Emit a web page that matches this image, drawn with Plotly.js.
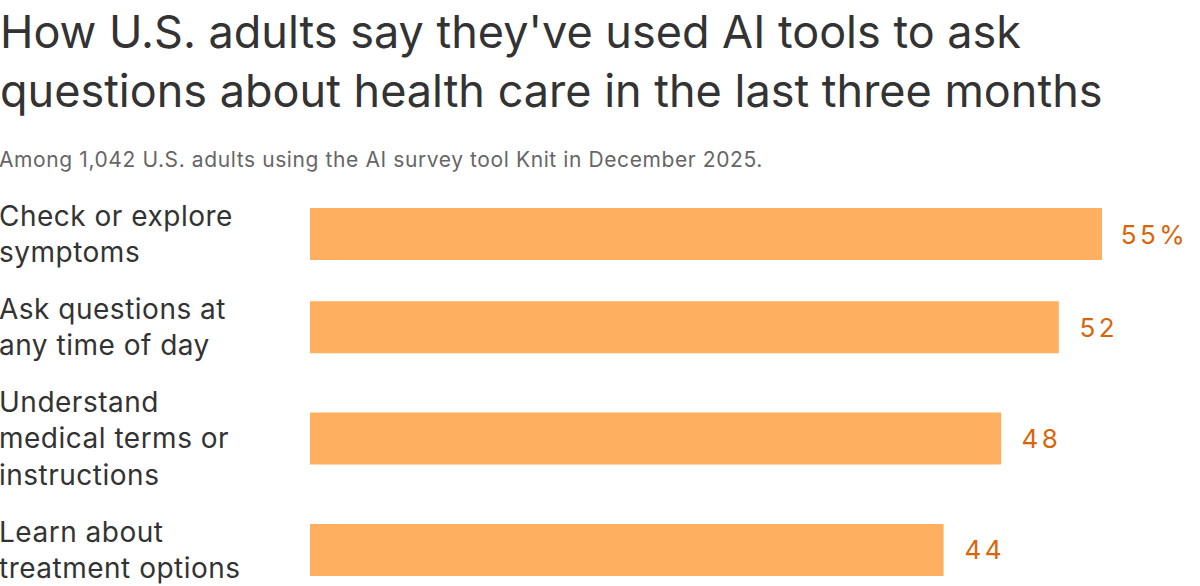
<!DOCTYPE html>
<html><head><meta charset="utf-8">
<script src="https://cdn.plot.ly/plotly-3.0.1.min.js"></script>
<style>
html,body{margin:0;padding:0;background:#fff}
#chart{width:1200px;height:586px}
g.annotation[data-index="0"] text, g.annotation[data-index="1"] text,
g.annotation[data-index="2"] text, g.annotation[data-index="3"] text{letter-spacing:3.5px}
g.annotation[data-index="4"] text, g.annotation[data-index="5"] text,
g.annotation[data-index="6"] text, g.annotation[data-index="7"] text{letter-spacing:0.5px}
g.annotation[data-index="8"] text{letter-spacing:0.6px}
</style>
</head><body><div id="chart"></div>
<script>
const titleText = "How U.S. adults say they've used AI tools to ask<br>questions about health care in the last three months";
const subtitleText = "Among 1,042 U.S. adults using the AI survey tool Knit in December 2025.";
const categories = ["Check or explore<br>symptoms", "Ask questions at<br>any time of day", "Understand<br>medical terms or<br>instructions", "Learn about<br>treatment options"];
const values = [55, 52, 48, 44];
const valueLabels = ["55%", "52", "48", "44"];

const FONT = "Inter, 'Noto Sans', sans-serif";
const GAP = 0.55;
const positions = [];
let acc = 0;
categories.forEach(c => { const n = c.split('<br>').length; positions.push(acc + n / 2); acc += n + GAP; });

const W = 1200, H = 586, L = 310, T = 190;
const plotH = H - T;
const pxPerUnit = 36.53;
const yTop = positions[0] - (234 - T) / pxPerUnit;
const yBottom = yTop + plotH / pxPerUnit;

const annotations = [];
values.forEach((v, i) => annotations.push({
  x: v, y: positions[i], xref: 'x', yref: 'y', text: valueLabels[i], showarrow: false,
  xanchor: 'left', yanchor: 'middle', xshift: 22,
  font: {family: FONT, size: 26, color: '#D9650A'}
}));
categories.forEach((c, i) => annotations.push({
  x: -L / (W - L), y: positions[i], xref: 'paper', yref: 'y', text: c, showarrow: false,
  xanchor: 'left', yanchor: 'middle', align: 'left', xshift: -3,
  font: {family: FONT, size: 28, color: '#333333'}
}));
annotations.push({
  x: -L / (W - L), y: (H - 174) / plotH, xref: 'paper', yref: 'paper', text: subtitleText, showarrow: false,
  xanchor: 'left', yanchor: 'bottom', align: 'left', xshift: -3,
  font: {family: FONT, size: 21, color: '#666666'}
});

const data = [{
  type: 'bar', orientation: 'h', x: values, y: positions,
  width: 52 / pxPerUnit,
  marker: {color: '#FFAF60'}, hoverinfo: 'none'
}];

const layout = {
  width: W, height: H,
  margin: {l: L, r: 0, t: T, b: 0},
  paper_bgcolor: '#fff', plot_bgcolor: '#fff',
  showlegend: false,
  title: {text: titleText, x: 0, xref: 'container', xanchor: 'left', y: 0.918, yref: 'container', yanchor: 'top',
    pad: {l: 0, t: 0}, font: {family: FONT, size: 45, color: '#333333'}},
  xaxis: {range: [0, (W - L) / (792 / 55)], visible: false, fixedrange: true},
  yaxis: {range: [yBottom, yTop], visible: false, fixedrange: true},
  annotations: annotations
};

Plotly.newPlot('chart', data, layout, {displayModeBar: false, staticPlot: true});
</script>
</body></html>
